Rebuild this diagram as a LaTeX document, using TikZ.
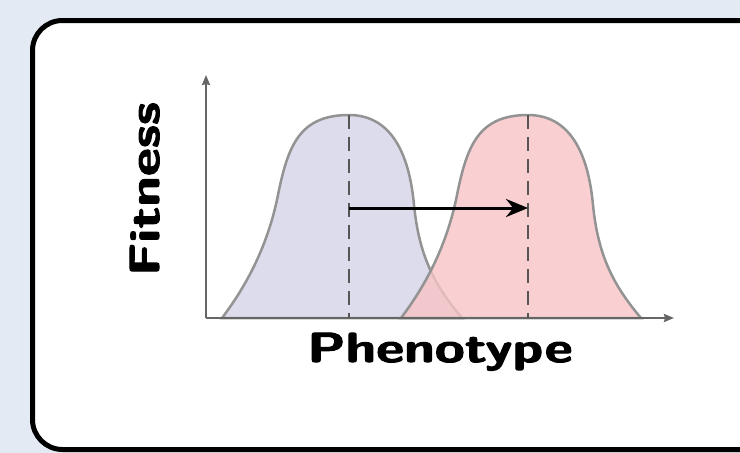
\documentclass[tikz,border=0pt]{standalone}
\usepackage{fontspec}
\newfontfamily\labelfont{lmsans10-bold.otf}[FakeStretch=1.3, FakeBold=2.5]
\usepackage{xcolor}
\definecolor{bgGrey}{RGB}{228, 234, 243}
\definecolor{bellBlue}{RGB}{220, 220, 237}
\definecolor{bellRed}{RGB}{248, 196, 198}
\definecolor{axisGrey}{RGB}{102, 102, 102}
\definecolor{dashGrey}{RGB}{85, 85, 85}
\usepackage{tikz}
\usetikzlibrary{arrows.meta}

\begin{document}
\begin{tikzpicture}[
    x=1pt, y=-1pt,
    every node/.style={font=\labelfont\fontsize{42}{42}\selectfont},
    frame/.style={draw=black, line width=5pt, fill=white, rounded corners=30pt},
    axis/.style={-{Stealth[length=10pt, width=8pt, inset=1pt]}, draw=axisGrey, line width=2pt},
    bell/.style={draw=gray!85, line width=2.5pt},
    peak/.style={dash pattern=on 14pt off 8pt, draw=dashGrey, line width=2.5pt},
    arr/.style={-{Stealth[length=22pt, width=18pt]}, draw=black, line width=3pt}
]

%% ---- Background and frame ----
\fill[bgGrey] (0,0) rectangle (740,453);
\useasboundingbox (0,0) rectangle (740,453);
\clip (0,0) rectangle (740,453);
\draw[frame] (32.5,20.5) rectangle (800,449.5);

%% ---- Fitness curves ----
\filldraw[bell, fill=bellBlue, shift={(349,0)}]
    (-127,318) .. controls (-102,285) and (-81,245) .. (-71,195)
    .. controls (-61,145) and (-49,115) .. (0,115)
    .. controls (40,115) and (60,150) .. (65,205)
    .. controls (70,255) and (85,285) .. (113,318) -- cycle;
\filldraw[bell, fill=bellRed, fill opacity=0.8, shift={(528,0)}]
    (-127,318) .. controls (-102,285) and (-81,245) .. (-71,195)
    .. controls (-61,145) and (-49,115) .. (0,115)
    .. controls (40,115) and (60,150) .. (65,205)
    .. controls (70,255) and (85,285) .. (113,318) -- cycle;

%% ---- Axes ----
\coordinate (origin) at (206,318);
\coordinate (ytip)   at (206,75);
\coordinate (xtip)   at (674,318);
\draw[axis] (origin) -- (ytip);
\draw[axis] (origin) -- (xtip);

%% ---- Optima and shift ----
\coordinate (bluetop) at (349,115);
\coordinate (bluebot) at (349,318);
\coordinate (redtop)  at (528,115);
\coordinate (redbot)  at (528,318);
\coordinate (bluemid) at (349,208);
\coordinate (redmid)  at (528,208);
\draw[peak] (bluetop) -- (bluebot);
\draw[peak] (redtop) -- (redbot);
\draw[arr] (bluemid) -- (redmid);

%% ---- Labels ----
\node[anchor=base] (pheno) at (440,362) {Phenotype};
\node[anchor=base, rotate=90] (fit) at (159,189) {Fitness};

\end{tikzpicture}
\end{document}
